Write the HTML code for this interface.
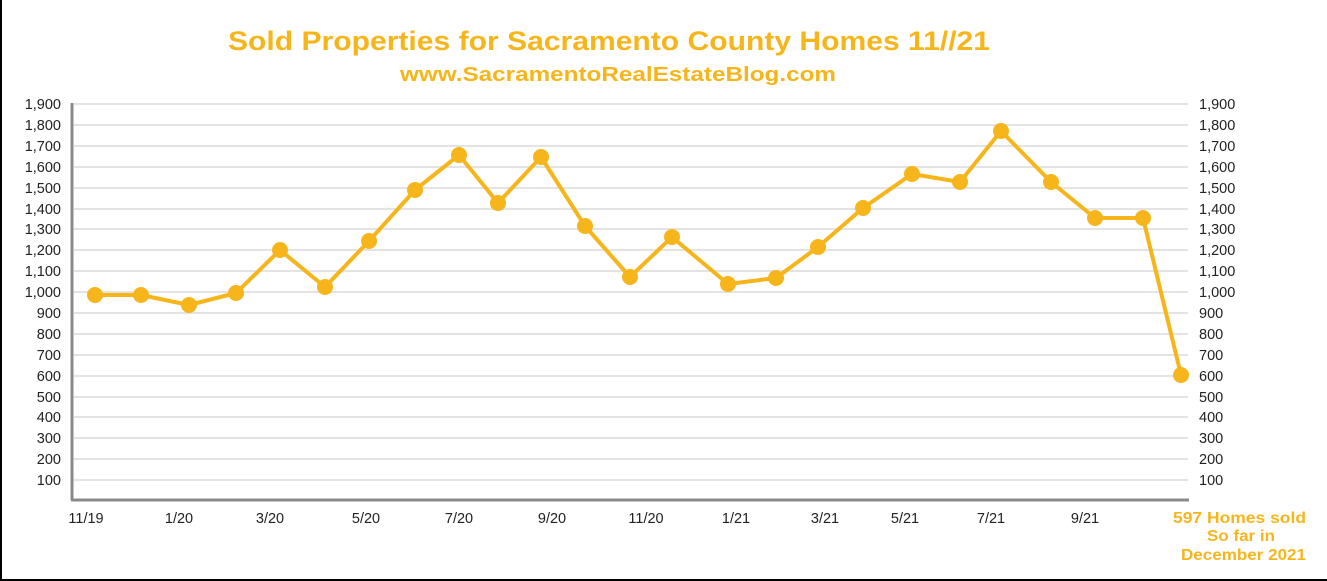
<!DOCTYPE html>
<html><head><meta charset="utf-8"><style>
html,body{margin:0;padding:0;background:#fff}
svg{display:block}
text{font-family:"Liberation Sans",sans-serif}
</style></head><body>
<svg width="1327" height="581" viewBox="0 0 1327 581">
<rect x="0" y="0" width="1327" height="581" fill="#fff"/>
<line x1="1" y1="0" x2="1" y2="581" stroke="#000" stroke-width="2"/>
<line x1="0" y1="580" x2="1327" y2="580" stroke="#000" stroke-width="2"/>
<text x="228" y="50" textLength="762" lengthAdjust="spacingAndGlyphs" font-size="27" font-weight="bold" fill="#f7b51c">Sold Properties for Sacramento County Homes 11//21</text>
<text x="400" y="81" textLength="436" lengthAdjust="spacingAndGlyphs" font-size="20" font-weight="bold" fill="#f7b51c">www.SacramentoRealEstateBlog.com</text>
<g stroke="#e3e3e3" stroke-width="2">
<line x1="74" x2="1188" y1="104" y2="104"/><line x1="74" x2="1188" y1="125" y2="125"/><line x1="74" x2="1188" y1="146" y2="146"/><line x1="74" x2="1188" y1="167" y2="167"/><line x1="74" x2="1188" y1="188" y2="188"/><line x1="74" x2="1188" y1="209" y2="209"/><line x1="74" x2="1188" y1="229" y2="229"/><line x1="74" x2="1188" y1="250" y2="250"/><line x1="74" x2="1188" y1="271" y2="271"/><line x1="74" x2="1188" y1="292" y2="292"/><line x1="74" x2="1188" y1="313" y2="313"/><line x1="74" x2="1188" y1="334" y2="334"/><line x1="74" x2="1188" y1="355" y2="355"/><line x1="74" x2="1188" y1="376" y2="376"/><line x1="74" x2="1188" y1="397" y2="397"/><line x1="74" x2="1188" y1="417" y2="417"/><line x1="74" x2="1188" y1="438" y2="438"/><line x1="74" x2="1188" y1="459" y2="459"/><line x1="74" x2="1188" y1="480" y2="480"/>
</g>
<line x1="72" y1="103" x2="72" y2="500" stroke="#8a8a8a" stroke-width="3"/>
<line x1="71" y1="500" x2="1189" y2="500" stroke="#8a8a8a" stroke-width="3"/>
<g font-size="14.5" fill="#222">
<g text-anchor="end">
<text x="61" y="109">1,900</text><text x="61" y="130">1,800</text><text x="61" y="151">1,700</text><text x="61" y="172">1,600</text><text x="61" y="193">1,500</text><text x="61" y="214">1,400</text><text x="61" y="234">1,300</text><text x="61" y="255">1,200</text><text x="61" y="276">1,100</text><text x="61" y="297">1,000</text><text x="61" y="318">900</text><text x="61" y="339">800</text><text x="61" y="360">700</text><text x="61" y="381">600</text><text x="61" y="402">500</text><text x="61" y="422">400</text><text x="61" y="443">300</text><text x="61" y="464">200</text><text x="61" y="485">100</text>
</g>
<g text-anchor="start">
<text x="1199" y="109">1,900</text><text x="1199" y="130">1,800</text><text x="1199" y="151">1,700</text><text x="1199" y="172">1,600</text><text x="1199" y="193">1,500</text><text x="1199" y="214">1,400</text><text x="1199" y="234">1,300</text><text x="1199" y="255">1,200</text><text x="1199" y="276">1,100</text><text x="1199" y="297">1,000</text><text x="1199" y="318">900</text><text x="1199" y="339">800</text><text x="1199" y="360">700</text><text x="1199" y="381">600</text><text x="1199" y="402">500</text><text x="1199" y="422">400</text><text x="1199" y="443">300</text><text x="1199" y="464">200</text><text x="1199" y="485">100</text>
</g>
<g text-anchor="middle">
<text x="86" y="523">11/19</text><text x="179" y="523">1/20</text><text x="270" y="523">3/20</text><text x="366" y="523">5/20</text><text x="459" y="523">7/20</text><text x="552" y="523">9/20</text><text x="646" y="523">11/20</text><text x="736" y="523">1/21</text><text x="825" y="523">3/21</text><text x="905" y="523">5/21</text><text x="991" y="523">7/21</text><text x="1085" y="523">9/21</text>
</g>
</g>
<g font-size="16" font-weight="bold" fill="#f7b51c">
<text x="1173" y="523" textLength="133" lengthAdjust="spacingAndGlyphs">597 Homes sold</text>
<text x="1207" y="541" textLength="68" lengthAdjust="spacingAndGlyphs">So  far in</text>
<text x="1181" y="560" textLength="125" lengthAdjust="spacingAndGlyphs">December 2021</text>
</g>
<polyline fill="none" stroke="#f7b51c" stroke-width="4" stroke-linejoin="round" points="95,295 141,295 189,305 236,293 280,250 325,287 369,241 415,190 459,155 498,203 541,157 585,226 630,277 672,237 728,284 776,278 818,247 863,208 912,174 960,182 1001,131 1051,182 1095,218 1143,218 1181,375"/>
<g fill="#f7b51c">
<circle cx="95" cy="295" r="8"/><circle cx="141" cy="295" r="8"/><circle cx="189" cy="305" r="8"/><circle cx="236" cy="293" r="8"/><circle cx="280" cy="250" r="8"/><circle cx="325" cy="287" r="8"/><circle cx="369" cy="241" r="8"/><circle cx="415" cy="190" r="8"/><circle cx="459" cy="155" r="8"/><circle cx="498" cy="203" r="8"/><circle cx="541" cy="157" r="8"/><circle cx="585" cy="226" r="8"/><circle cx="630" cy="277" r="8"/><circle cx="672" cy="237" r="8"/><circle cx="728" cy="284" r="8"/><circle cx="776" cy="278" r="8"/><circle cx="818" cy="247" r="8"/><circle cx="863" cy="208" r="8"/><circle cx="912" cy="174" r="8"/><circle cx="960" cy="182" r="8"/><circle cx="1001" cy="131" r="8"/><circle cx="1051" cy="182" r="8"/><circle cx="1095" cy="218" r="8"/><circle cx="1143" cy="218" r="8"/><circle cx="1181" cy="375" r="8"/>
</g>
</svg>
</body></html>
